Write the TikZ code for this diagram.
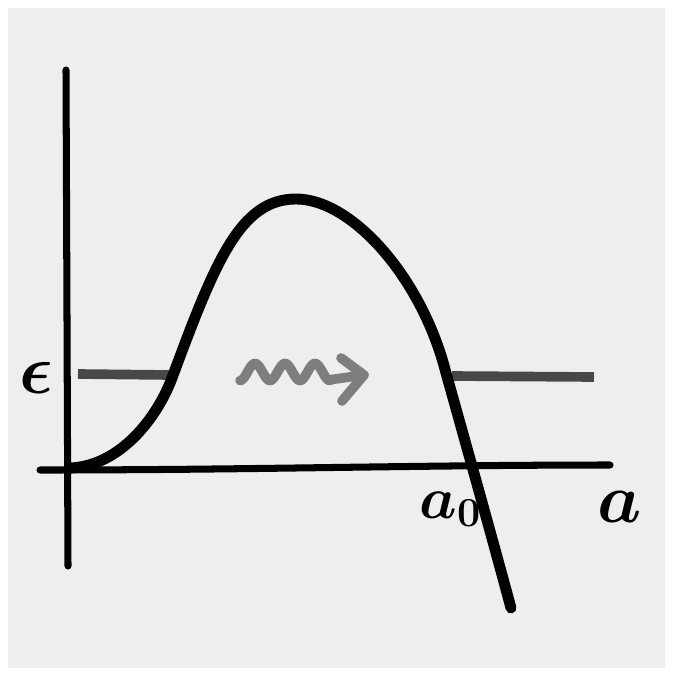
\documentclass[tikz,border=0pt]{standalone}
\usepackage{fontspec}
\usetikzlibrary{calc}
\definecolor{paper}{HTML}{EEEEEE}
\definecolor{levelgray}{HTML}{484848}
\definecolor{wavegray}{HTML}{7E7E7E}
\tikzset{
  axisline/.style={line width=4pt, line cap=round, black},
  curveline/.style={line width=6.2pt, line cap=round, line join=round, black},
  levelline/.style={line width=5.5pt, levelgray},
  waveline/.style={line width=5.5pt, wavegray, line cap=round, line join=round},
  hand/.style={inner sep=0pt, font=\Huge\boldmath, scale=1.6}
}
\begin{document}
\begin{tikzpicture}[x=0.02cm, y=-0.02cm]
\useasboundingbox (0,0) rectangle (673,676);
\fill[white] (0,0) rectangle (673,676);
\fill[paper] (8,8) rectangle (665,668);
% axes
\coordinate (ytop) at (66,70);
\coordinate (ybot) at (68,566);
\coordinate (xleft) at (40,470);
\coordinate (xright) at (610,465);
\draw[axisline] (ytop) -- (ybot);
\draw[axisline] (xleft) .. controls (250,470) and (420,465) .. (xright);
% energy level
\coordinate (l1a) at (78,374);
\coordinate (l1b) at (170,375);
\coordinate (l2a) at (452,376);
\coordinate (l2b) at (594,377);
\draw[levelline] (l1a) -- (l1b);
\draw[levelline] (l2a) -- (l2b);
% curve
\coordinate (c0) at (70,468);
\coordinate (c1) at (172,378);
\coordinate (peak) at (296,199);
\coordinate (c3) at (446,373);
\coordinate (cend) at (511,608);
\draw[curveline] (c0) .. controls (120,466) and (157,418) .. (c1)
  .. controls (215,262) and (240,199) .. (peak)
  .. controls (352,199) and (422,278) .. (c3)
  .. controls (455,405) and (490,530) .. (cend);
% wavy arrow
\draw[waveline] plot[domain=0:1, samples=80] ({240+90*\x}, {372+8.5*cos(\x*3*360)});
\coordinate (ahtop) at (341,358);
\coordinate (ahtip) at (364,375);
\coordinate (ahbot) at (342,401);
\draw[waveline] (ahtop) -- (ahtip) -- (ahbot);
\draw[waveline] (328,380) -- (ahtip);
% labels
\node[hand] (eps) at (36,378) {$\epsilon$};
\node[hand, scale=0.85, anchor=base east] (a0) at (482,518) {$a_{\scriptscriptstyle\mathbf{0}}$};
\node[hand] (aa) at (620,507) {$a$};
\end{tikzpicture}
\end{document}
